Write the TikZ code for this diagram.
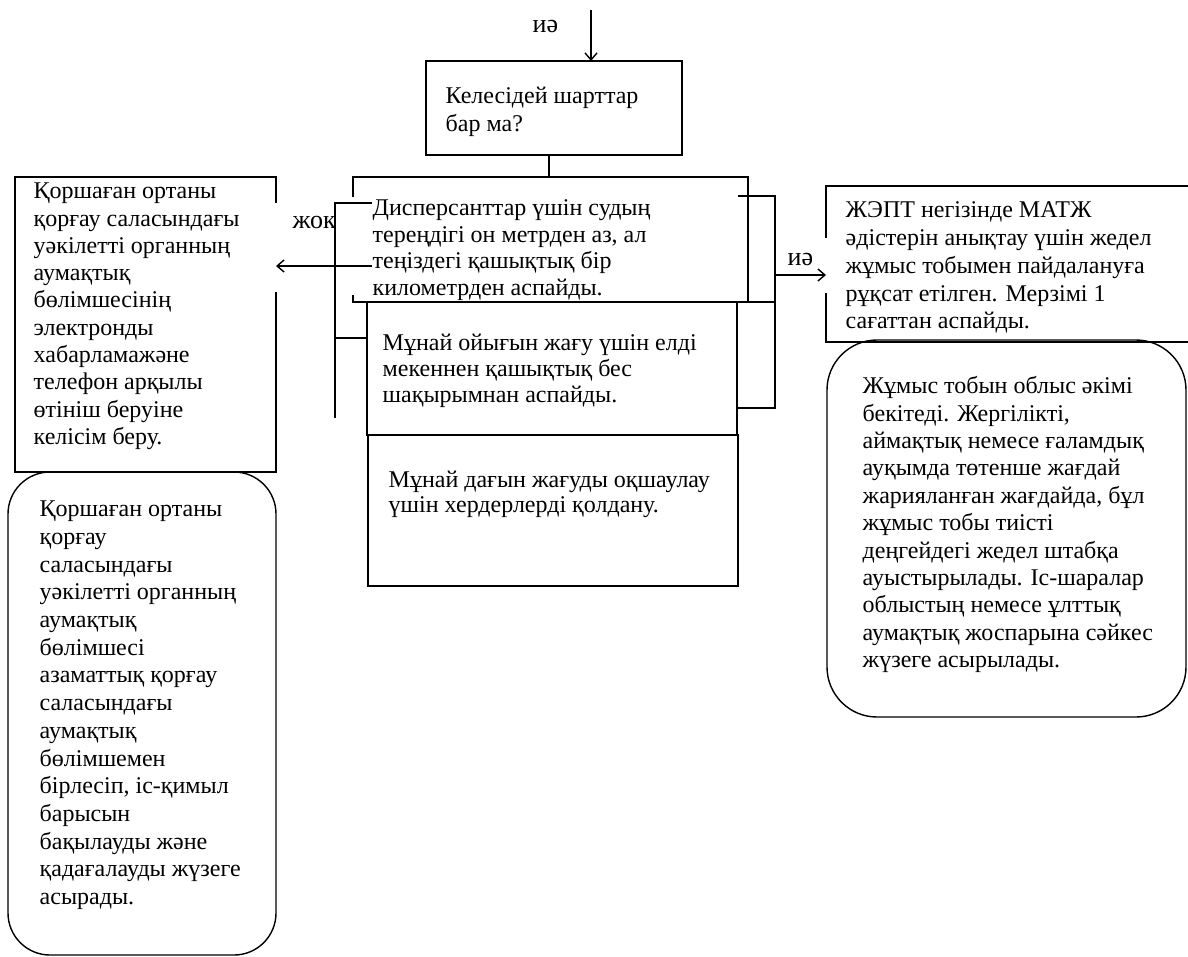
\documentclass[tikz,border=0pt]{standalone}
\usepackage{fontspec}
\setmainfont{Liberation Serif}
\usetikzlibrary{arrows.meta}
\begin{document}
\begin{tikzpicture}[x=1pt,y=-1pt,line width=1.4pt,
  frame/.style={draw, inner sep=0pt, outer sep=0pt, anchor=north west},
  soft/.style={frame, rounded corners=#1},
  txt/.style={anchor=north west, align=left, inner sep=0pt, yshift={0.7*#1},
    font=\fontsize{24}{#1}\selectfont},
  txt/.default=27.3,
  lbl/.style={anchor=base west, inner sep=0pt, font=\fontsize{26}{30}\selectfont},
  arr/.style={-{Straight Barb[length=7pt,width=12pt]}}]
\useasboundingbox (0,0) rectangle (1188,956);
% frames
\node[frame, minimum width=256pt, minimum height=94pt] (q) at (426,61) {};
\node[frame, minimum width=395pt, minimum height=125pt] (dis) at (353,177) {};
\node[frame, minimum width=261pt, minimum height=295pt] (call) at (15,177) {};
\node[frame, minimum width=400pt, minimum height=156pt] (team) at (826,186) {};
\node[soft=50pt, minimum width=359pt, minimum height=377pt] (akim) at (827,340) {};
\node[frame, minimum width=370pt, minimum height=133pt] (burn) at (367,302) {};
\node[frame, minimum width=370pt, minimum height=151pt] (boom) at (368,435) {};
\node[soft=42pt, minimum width=268pt, minimum height=483pt] (ctrl) at (8,472) {};
% texts
\node[txt] (qt) at (445,103) {\strut Келесідей шарттар\\бар ма?};
\node[txt=26.5, fill=white, inner xsep=32pt, inner ysep=0pt, text depth=0pt] (dist) at (340,215)
  {\strut Дисперсанттар үшін судың\\тереңдігі он метрден аз, ал\\теңіздегі қашықтық бір\\километрден аспайды.};
\node[txt] (callt) at (33,198) {\strut Қоршаған ортаны\\қорғау саласындағы\\уәкілетті органның\\аумақтық\\бөлімшесінің\\электронды\\хабарламажәне\\телефон арқылы\\өтініш беруіне\\келісім беру.};
\node[txt=27.8] (teamt) at (845,217) {\strut ЖЭПТ негізінде МАТЖ\\әдістерін анықтау үшін жедел\\жұмыс тобымен пайдалануға\\рұқсат етілген. Мерзімі 1\\сағаттан аспайды.};
\node[txt=27.4] (akimt) at (862,393) {\strut Жұмыс тобын облыс әкімі\\бекітеді. Жергілікті,\\аймақтық немесе ғаламдық\\ауқымда төтенше жағдай\\жарияланған жағдайда, бұл\\жұмыс тобы тиісті\\деңгейдегі жедел штабқа\\ауыстырылады. Іс-шаралар\\облыстың немесе ұлттық\\аумақтық жоспарына сәйкес\\жүзеге асырылады.};
\node[txt=26] (burnt) at (382,350) {\strut Мұнай ойығын жағу үшін елді\\мекеннен қашықтық бес\\шақырымнан аспайды.};
\node[txt=25] (boomt) at (388,487) {\strut Мұнай дағын жағуды оқшаулау\\үшін хердерлерді қолдану.};
\node[txt=27.7] (ctrlt) at (39,516) {\strut Қоршаған ортаны\\қорғау\\саласындағы\\уәкілетті органның\\аумақтық\\бөлімшесі\\азаматтық қорғау\\саласындағы\\аумақтық\\бөлімшемен\\бірлесіп, іс-қимыл\\барысын\\бақылауды және\\қадағалауды жүзеге\\асырады.};
% labels
\node[lbl] (yes0) at (532,32) {иә};
\node[lbl, fill=white, inner xsep=22pt, text height=25pt, text depth=64pt] (no) at (270,228) {жок};
\node[lbl, fill=white, inner xsep=14pt, text height=27pt, text depth=28pt] (yes) at (773,265) {иә};
% connectors
\coordinate (in) at (591,10);
\draw[arr] (in) -- (in |- q.north);
\draw ([xshift=-5pt]q.south) -- ([xshift=-5pt]q.south |- dis.north);
\coordinate (lt) at (335,203);
\coordinate (lb) at (335,418);
\coordinate (lm) at (335,338);
\coordinate (ln) at (372,266);
\draw (372,203) -- (lt) -- (lb);
\draw (lm) -- (lm -| burn.west);
\draw[arr] (ln) -- (ln -| call.east);
\coordinate (rt) at (775,196);
\coordinate (rb) at (775,408);
\coordinate (ry) at (775,275);
\draw (738,196) -- (rt) -- (rb) -- (rb -| burn.east);
\draw (dis.south east) -- (dis.south east -| rt);
\draw[arr] (ry) -- (ry -| team.west);
\end{tikzpicture}
\end{document}
